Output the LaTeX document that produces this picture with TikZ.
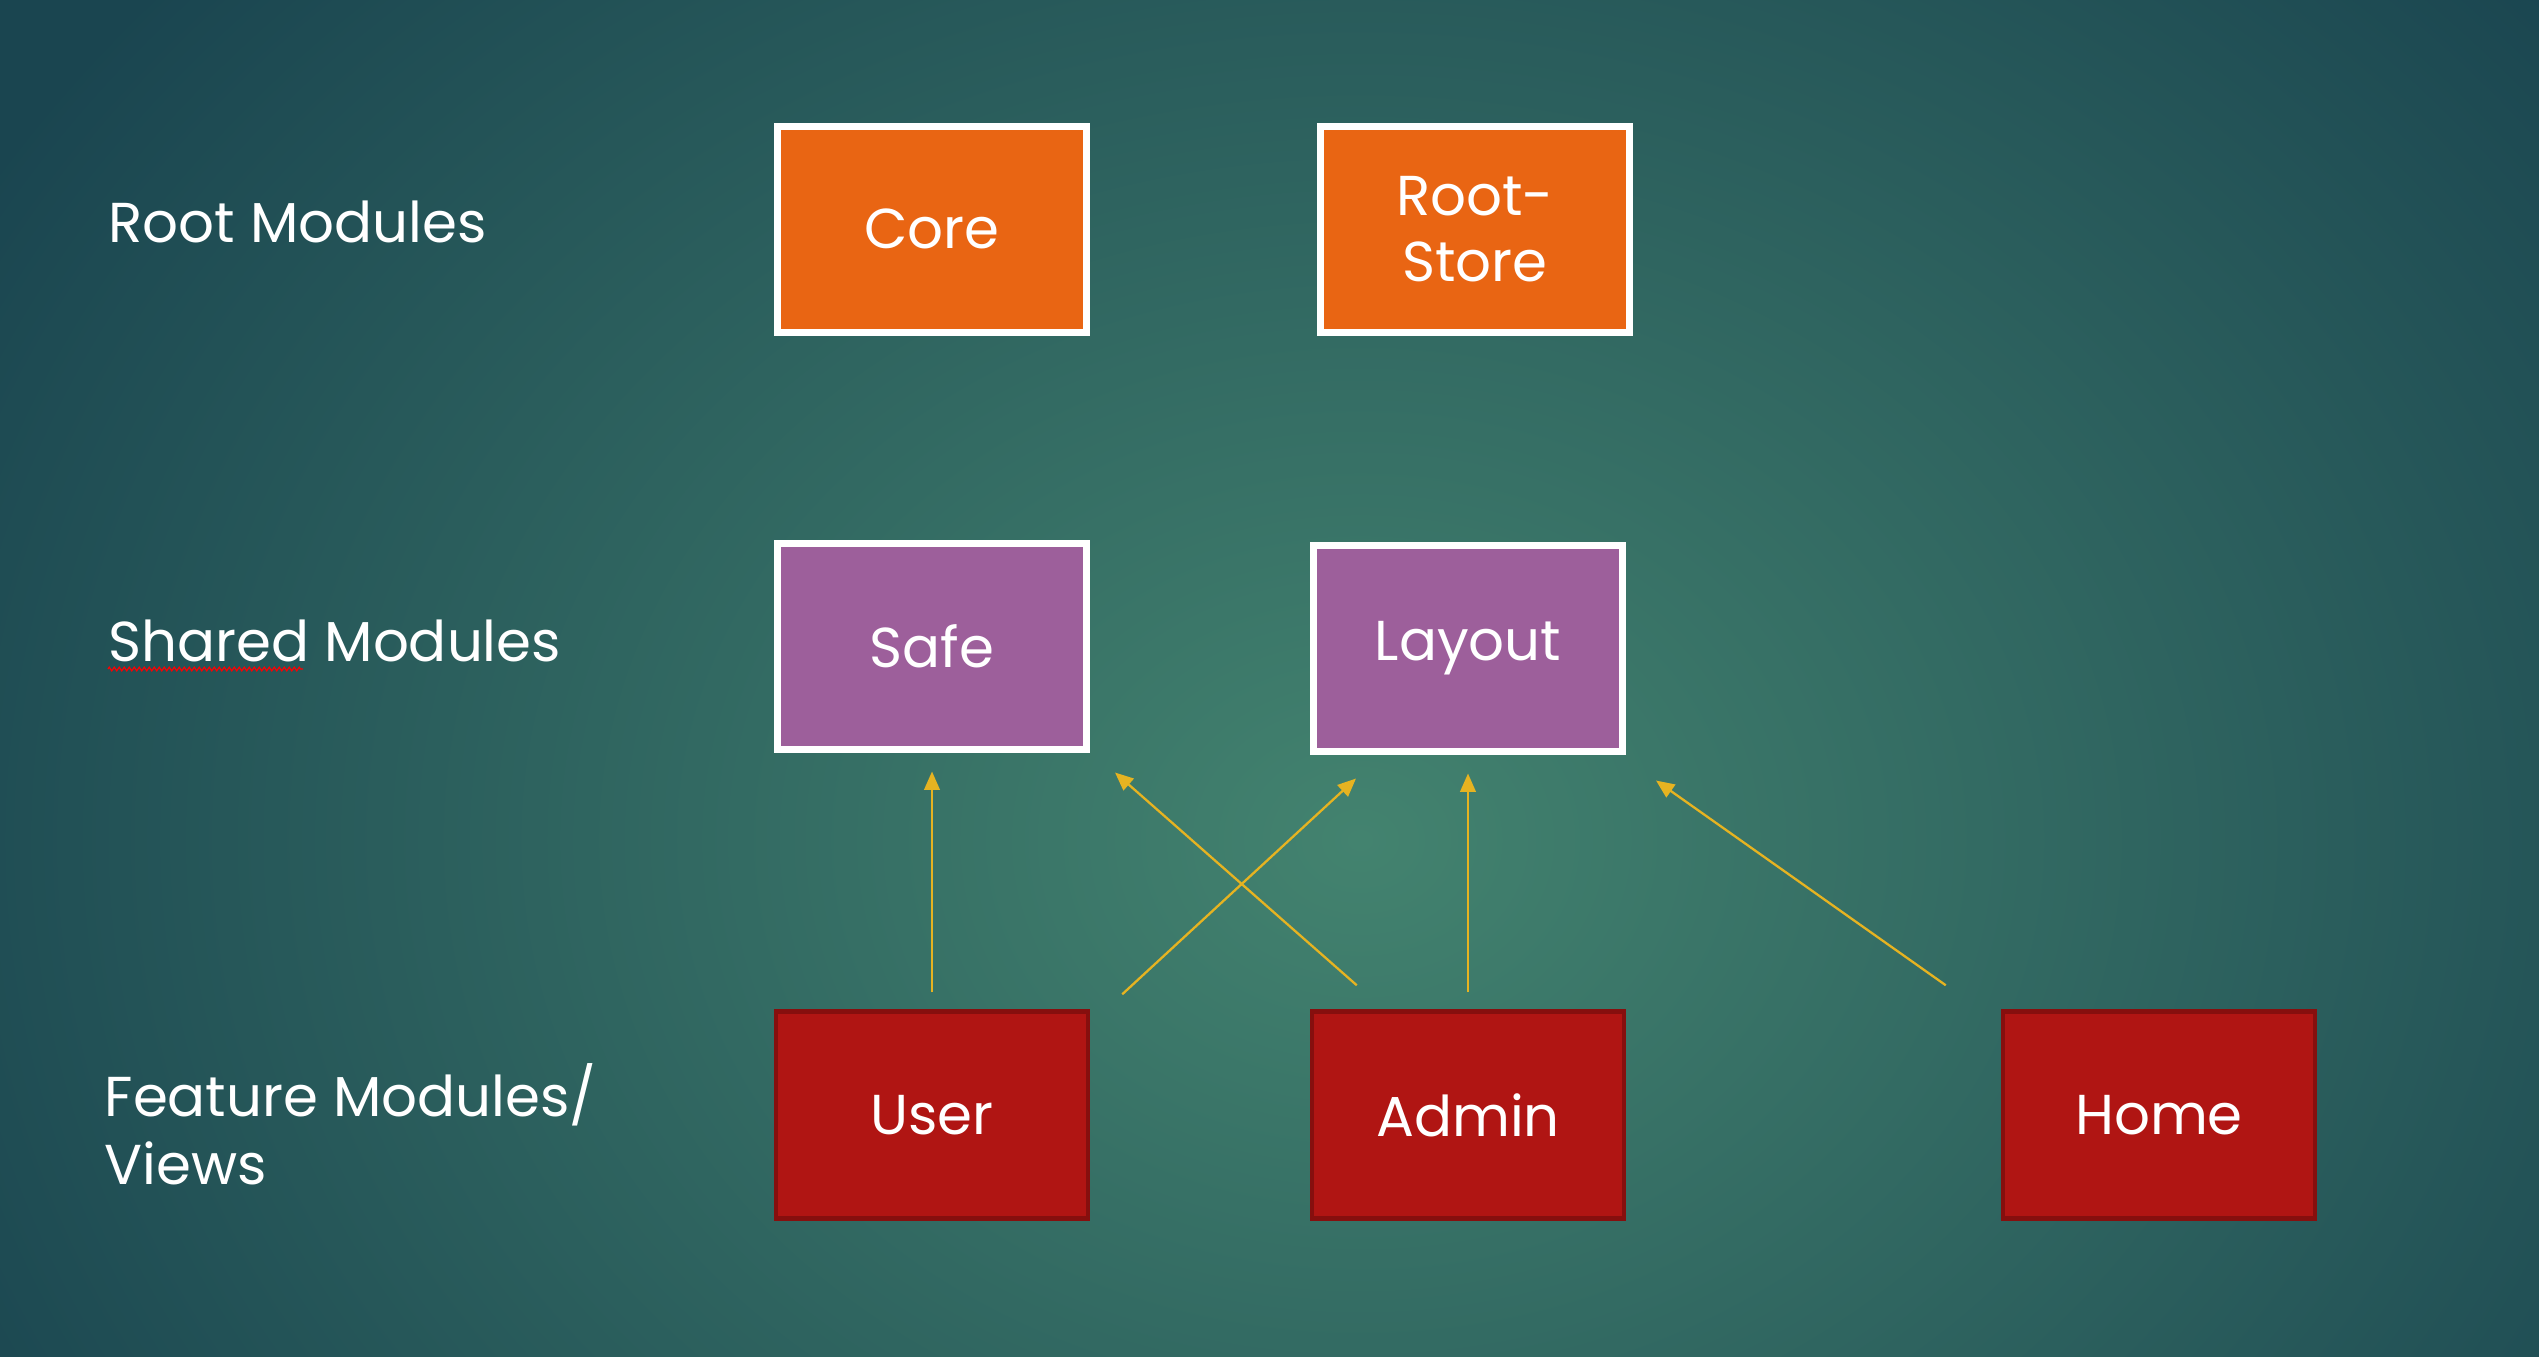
\documentclass[tikz,border=0pt]{standalone}
\usepackage{fontspec}
\setmainfont{Poppins}
\usepackage{tikz}
\usetikzlibrary{arrows.meta,positioning,calc,decorations.pathmorphing}
\definecolor{bgdark}{HTML}{1A4550}
\definecolor{bglight}{HTML}{43836F}
\definecolor{rootfill}{HTML}{E96513}
\definecolor{sharedfill}{HTML}{9D5F9B}
\definecolor{featfill}{HTML}{B01513}
\definecolor{featline}{HTML}{860F0E}
\definecolor{depcol}{HTML}{E6B321}

\begin{document}
\begin{tikzpicture}[
    box/.style={rectangle, minimum width=3.09cm, minimum height=2.06cm, inner sep=0pt,
      text=white, align=center, font=\fontsize{16}{18.8}\selectfont},
    rootbox/.style={box, fill=rootfill, draw=white, line width=0.07cm},
    sharedbox/.style={box, fill=sharedfill, draw=white, line width=0.07cm},
    featbox/.style={box, fill=featfill, draw=featline, line width=0.045cm,
      minimum width=3.12cm, minimum height=2.07cm},
    lbl/.style={anchor=west, text=white, align=left, inner sep=0pt,
      font=\fontsize{16}{19.4}\selectfont},
    deparrow/.style={draw=depcol, line width=0.65pt, -{Triangle[length=5.2pt,width=4.4pt]}}]
  \useasboundingbox (0,0) rectangle (25.39,-13.56);
  \begin{scope}
    \clip (0,0) rectangle (25.39,-13.56);
    \fill[bgdark] (0,0) rectangle (25.39,-13.56);
    \shade[inner color=bglight, outer color=bgdark] (13.6,-8.4) ellipse (16 and 13);
  \end{scope}
  % row labels
  \node[lbl] (lblroot)    at (1.08,-2.22)  {Root Modules};
  \node[lbl] (lblshared)  at (1.08,-6.41)  {Shared Modules};
  \node[lbl] (lblfeature) at (1.04,-11.24) {Feature Modules/\\Views};
  \draw[red, line width=0.35pt, decorate,
    decoration={zigzag, amplitude=0.018cm, segment length=0.05cm}]
    (1.08,-6.69) -- (3.03,-6.69);
  % modules
  \node[rootbox]   (core)      at (9.32,-2.29)  {Core};
  \node[rootbox]   (rootstore) at (14.75,-2.29) {Root-\\Store};
  \node[sharedbox] (safe)      at (9.32,-6.46)  {Safe};
  \node[sharedbox] (layout)    at (14.68,-6.48) {Layout};
  \foreach \n/\t/\x in {user/User/9.32, admin/Admin/14.68, home/Home/21.59}
    \node[featbox] (\n) at (\x,-11.15) {\t};
  % dependencies
  \draw[deparrow] ([yshift=0.17cm]user.north) -- ([yshift=-0.19cm]safe.south);
  \draw[deparrow] ([shift={(0.47,0.24)}]admin.north west) -- ([shift={(0.25,-0.20)}]safe.south east);
  \draw[deparrow] ([shift={(0.32,0.15)}]user.north east) -- ([shift={(0.46,-0.24)}]layout.south west);
  \draw[deparrow] ([yshift=0.17cm]admin.north) -- ([yshift=-0.19cm]layout.south);
  \draw[deparrow] ([shift={(-0.55,0.24)}]home.north west) -- ([shift={(0.30,-0.26)}]layout.south east);
\end{tikzpicture}
\end{document}
